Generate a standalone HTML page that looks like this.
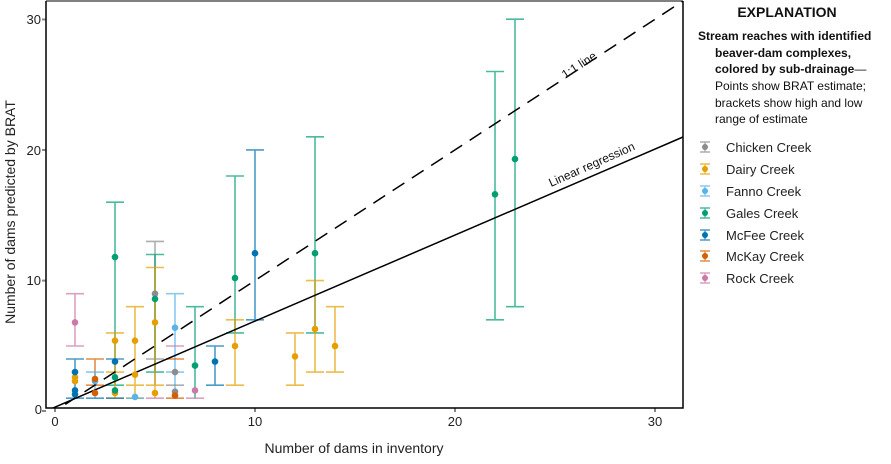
<!DOCTYPE html>
<html><head><meta charset="utf-8"><style>
body{margin:0;background:#fff;font-family:"Liberation Sans",sans-serif}
</style></head><body>
<svg width="891" height="459" viewBox="0 0 891 459" xmlns="http://www.w3.org/2000/svg" font-family="Liberation Sans, sans-serif">
<defs><clipPath id="c"><rect x="46" y="1" width="637" height="407"/></clipPath></defs>
<g font-size="13" fill="#222">
<text x="41" y="24" text-anchor="end">30</text>
<text x="41" y="155" text-anchor="end">20</text>
<text x="41" y="285" text-anchor="end">10</text>
<text x="42" y="414" text-anchor="end">0</text>
<text x="55" y="426" text-anchor="middle">0</text>
<text x="255" y="426" text-anchor="middle">10</text>
<text x="455" y="426" text-anchor="middle">20</text>
<text x="655" y="426" text-anchor="middle">30</text>
<text x="354" y="453" text-anchor="middle" font-size="14">Number of dams in inventory</text>
<text transform="translate(15,212) rotate(-90)" text-anchor="middle" font-size="14">Number of dams predicted by BRAT</text>
</g>
<g stroke="#888" stroke-width="2">
<path d="M46 19.5h-4M46 150h-4M46 280.6h-4M46 411h-4M55 408v4M255 408v4M455 408v4M655 408v4"/>
</g>
<g clip-path="url(#c)" fill="none" stroke-width="1.6">
<g stroke-opacity="0.7">
<path stroke="#CC79A7" d="M75 346v-52.3M66 346h18M66 293.7h18"/>
<path stroke="#0072B2" d="M75 398.2v-39.2M66 398.2h18M66 359h18"/>
<path stroke="#D55E00" d="M95 385.2v-26.2M86 385.2h18M86 359h18"/>
<path stroke="#56B4E9" d="M95 398.2v-26.1M86 372.1h18"/>
<path stroke="#0072B2" d="M86 398.2h18"/>
<path stroke="#009E73" d="M115 385.2v-183M106 202.2h18M106 385.2h18"/>
<path stroke="#E69F00" d="M115 398.2v-65.3M106 332.9h18M106 372.1h18M106 398.2h18"/>
<path stroke="#0072B2" d="M106 359h18M106 398.2h18"/>
<path stroke="#E69F00" d="M135 398.2v-91.5M126 306.7h18M126 398.2h18M126 385.2h18"/>
<path stroke="#56B4E9" d="M126 398.2h18"/>
<path stroke="#8c8c8c" d="M155 385.2v-143.8M146 241.4h18M146 359h18"/>
<path stroke="#009E73" d="M155 372v-117.5M146 254.5h18M146 372.1h18"/>
<path stroke="#E69F00" d="M155 398v-130.5M146 267.5h18M146 385.2h18"/>
<path stroke="#CC79A7" d="M146 398.2h18"/>
<path stroke="#56B4E9" d="M175 398.2v-104.5M166 293.7h18M166 372.1h18"/>
<path stroke="#CC79A7" d="M166 346h18"/>
<path stroke="#D55E00" d="M166 359h18M166 398.2h18"/>
<path stroke="#8c8c8c" d="M166 385.2h18"/>
<path stroke="#009E73" d="M195 398.2v-91.5M186 306.7h18"/>
<path stroke="#CC79A7" d="M186 398.2h18"/>
<path stroke="#0072B2" d="M215 385.2v-39.2M206 346h18M206 385.2h18"/>
<path stroke="#009E73" d="M235 332.9v-156.9M226 176h18M226 332.9h18"/>
<path stroke="#E69F00" d="M235 385.2v-65.4M226 319.8h18M226 385.2h18"/>
<path stroke="#0072B2" d="M255 319.8v-169.9M246 149.9h18M246 319.8h18"/>
<path stroke="#E69F00" d="M295 385.2v-52.3M286 332.9h18M286 385.2h18"/>
<path stroke="#009E73" d="M315 332.9v-196.1M306 136.8h18M306 332.9h18"/>
<path stroke="#E69F00" d="M315 372.1v-91.5M306 280.6h18M306 372.1h18"/>
<path stroke="#E69F00" d="M335 372.1v-65.4M326 306.7h18M326 372.1h18"/>
<path stroke="#009E73" d="M495 319.8v-248.3M486 71.5h18M486 319.8h18"/>
<path stroke="#009E73" d="M515 306.7v-287.5M506 19.2h18M506 306.7h18"/>
</g>
<path stroke="#000" stroke-width="1.5" stroke-dasharray="14,9" d="M46 417L683 1"/>
<path stroke="#000" stroke-width="1.5" d="M46 411L683 137"/>
</g>
<g stroke="none">
<circle cx="75" cy="322.4" r="3.3" fill="#CC79A7"/>
<circle cx="75" cy="381.2" r="3.3" fill="#E69F00"/>
<circle cx="75" cy="377.3" r="3.3" fill="#E69F00"/>
<circle cx="75" cy="394.3" r="3.3" fill="#0072B2"/>
<circle cx="75" cy="390.4" r="3.3" fill="#0072B2"/>
<circle cx="75" cy="372.1" r="3.3" fill="#0072B2"/>
<circle cx="95" cy="381.2" r="3.3" fill="#56B4E9"/>
<circle cx="95" cy="379" r="3.3" fill="#D55E00"/>
<circle cx="95" cy="393" r="3.3" fill="#D55E00"/>
<circle cx="115" cy="257.1" r="3.3" fill="#009E73"/>
<circle cx="115" cy="340.7" r="3.3" fill="#E69F00"/>
<circle cx="115" cy="361.6" r="3.3" fill="#0072B2"/>
<circle cx="115" cy="377.3" r="3.3" fill="#009E73"/>
<circle cx="115" cy="393" r="3.3" fill="#E69F00"/>
<circle cx="115" cy="390.4" r="3.3" fill="#009E73"/>
<circle cx="135" cy="340.7" r="3.3" fill="#E69F00"/>
<circle cx="135" cy="374.7" r="3.3" fill="#E69F00"/>
<circle cx="135" cy="396.9" r="3.3" fill="#56B4E9"/>
<circle cx="155" cy="293.7" r="3.3" fill="#8c8c8c"/>
<circle cx="155" cy="298.9" r="3.3" fill="#009E73"/>
<circle cx="155" cy="322.4" r="3.3" fill="#E69F00"/>
<circle cx="155" cy="393" r="3.3" fill="#E69F00"/>
<circle cx="175" cy="327.7" r="3.3" fill="#56B4E9"/>
<circle cx="175" cy="372.1" r="3.3" fill="#8c8c8c"/>
<circle cx="175" cy="391.7" r="3.3" fill="#8c8c8c"/>
<circle cx="175" cy="395.6" r="3.3" fill="#D55E00"/>
<circle cx="195" cy="365.6" r="3.3" fill="#009E73"/>
<circle cx="195" cy="390.4" r="3.3" fill="#CC79A7"/>
<circle cx="215" cy="361.6" r="3.3" fill="#0072B2"/>
<circle cx="235" cy="278" r="3.3" fill="#009E73"/>
<circle cx="235" cy="346" r="3.3" fill="#E69F00"/>
<circle cx="255" cy="253.2" r="3.3" fill="#0072B2"/>
<circle cx="295" cy="356.4" r="3.3" fill="#E69F00"/>
<circle cx="315" cy="253.2" r="3.3" fill="#009E73"/>
<circle cx="315" cy="329" r="3.3" fill="#E69F00"/>
<circle cx="335" cy="346" r="3.3" fill="#E69F00"/>
<circle cx="495" cy="194.3" r="3.3" fill="#009E73"/>
<circle cx="515" cy="159.1" r="3.3" fill="#009E73"/>
</g>
<path d="M46 1V408H683V1" fill="none" stroke="#000" stroke-width="1.5"/>
<path d="M46 1H683" stroke="#000" stroke-width="1"/>
<g font-size="12" fill="#111">
<text transform="translate(565,79) rotate(-33)">1:1 line</text>
<text transform="translate(551,187) rotate(-24)">Linear regression</text>
</g>
<g font-size="13" fill="#111">
<text x="787" y="17" text-anchor="middle" font-weight="bold" font-size="14">EXPLANATION</text>
<text x="698" y="40" font-weight="bold" font-size="12">Stream reaches with identified</text>
<text x="715" y="57" font-weight="bold" font-size="12">beaver-dam complexes,</text>
<text x="715" y="73" font-weight="bold" font-size="12">colored by sub-drainage<tspan font-weight="normal">—</tspan></text>
<text x="715" y="90" font-size="12">Points show BRAT estimate;</text>
<text x="715" y="107" font-size="12">brackets show high and low</text>
<text x="715" y="123" font-size="12">range of estimate</text>
</g>
<g font-size="13" fill="#222">
<g transform="translate(705,147)"><path d="M-5 -5h10M-5 5h10M0 -5v10" stroke="#8c8c8c" stroke-opacity="0.7" stroke-width="1.5"/><circle r="3" fill="#8c8c8c"/><text x="21" y="5">Chicken Creek</text></g>
<g transform="translate(705,169)"><path d="M-5 -5h10M-5 5h10M0 -5v10" stroke="#E69F00" stroke-opacity="0.7" stroke-width="1.5"/><circle r="3" fill="#E69F00"/><text x="21" y="5">Dairy Creek</text></g>
<g transform="translate(705,191)"><path d="M-5 -5h10M-5 5h10M0 -5v10" stroke="#56B4E9" stroke-opacity="0.7" stroke-width="1.5"/><circle r="3" fill="#56B4E9"/><text x="21" y="5">Fanno Creek</text></g>
<g transform="translate(705,213)"><path d="M-5 -5h10M-5 5h10M0 -5v10" stroke="#009E73" stroke-opacity="0.7" stroke-width="1.5"/><circle r="3" fill="#009E73"/><text x="21" y="5">Gales Creek</text></g>
<g transform="translate(705,235)"><path d="M-5 -5h10M-5 5h10M0 -5v10" stroke="#0072B2" stroke-opacity="0.7" stroke-width="1.5"/><circle r="3" fill="#0072B2"/><text x="21" y="5">McFee Creek</text></g>
<g transform="translate(705,256)"><path d="M-5 -5h10M-5 5h10M0 -5v10" stroke="#D55E00" stroke-opacity="0.7" stroke-width="1.5"/><circle r="3" fill="#D55E00"/><text x="21" y="5">McKay Creek</text></g>
<g transform="translate(705,278)"><path d="M-5 -5h10M-5 5h10M0 -5v10" stroke="#CC79A7" stroke-opacity="0.7" stroke-width="1.5"/><circle r="3" fill="#CC79A7"/><text x="21" y="5">Rock Creek</text></g>
</g>
</svg>
</body></html>
